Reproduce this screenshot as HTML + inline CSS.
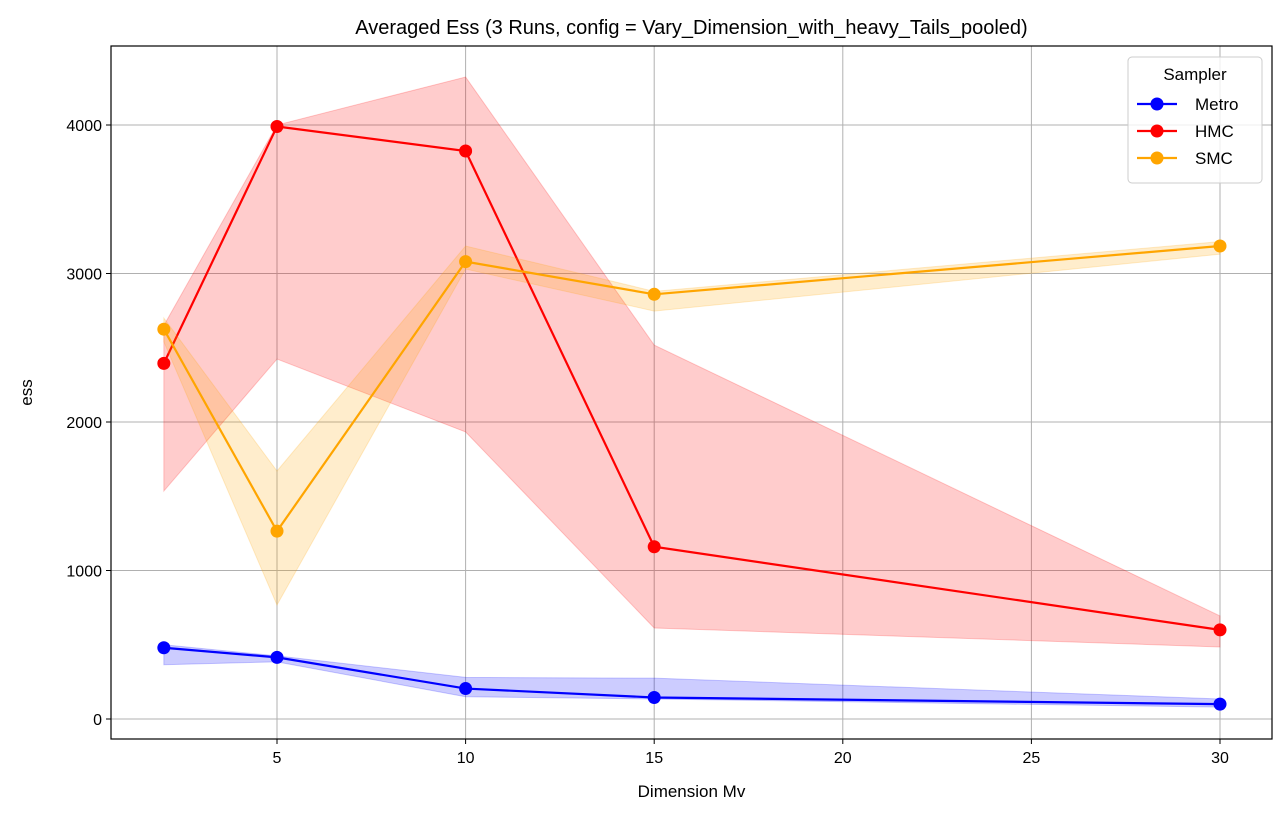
<!DOCTYPE html>
<html><head><meta charset="utf-8"><style>
body{margin:0;background:#fff;}
svg text{font-family:"Liberation Sans","DejaVu Sans",sans-serif;}
</style></head><body>
<svg id="chart" width="1288" height="817" xmlns="http://www.w3.org/2000/svg"></svg>
<script>
const dims=[2,5,10,15,30];
const metroMean=[480,415,205,145,100];
const metroLow=[365,385,150,135,80];
const metroHigh=[500,425,280,275,135];
const hmcMean=[2395,3990,3825,1160,600];
const hmcLow=[1535,2424,1933,613,485];
const hmcHigh=[2650,4000,4323,2518,694];
const smcMean=[2625,1265,3080,2860,3185];
const smcLow=[2540,768,3030,2747,3130];
const smcHigh=[2700,1670,3185,2880,3215];
const xTicks=[5,10,15,20,25,30];
const yTicks=[0,1000,2000,3000,4000];
const L=111,R=1272,T=46,B=739;
const X=v=>277+(v-5)*37.72;
const Y=v=>719-v*0.1485;
const svg=document.getElementById('chart');
const NS='http://www.w3.org/2000/svg';
function mk(tag,attrs,parent){const e=document.createElementNS(NS,tag);for(const k in attrs)e.setAttribute(k,attrs[k]);(parent||svg).appendChild(e);return e;}
// grid
const grid=mk('g',{});


xTicks.forEach(t=>{mk('line',{x1:X(t),x2:X(t),y1:T,y2:B,stroke:'#b0b0b0','stroke-width':1},grid);
 const lb=mk('text',{x:X(t),y:B+24,'text-anchor':'middle','font-size':16});lb.textContent=t;
 
 
 mk('line',{x1:X(t),x2:X(t),y1:B,y2:B+5,stroke:'#000'});});
yTicks.forEach(t=>{mk('line',{x1:L,x2:R,y1:Y(t),y2:Y(t),stroke:'#b0b0b0','stroke-width':1},grid);
 const lb=mk('text',{x:L-9,y:Y(t)+6,'text-anchor':'end','font-size':16});lb.textContent=t;
 
 
 mk('line',{x1:L-5,x2:L,y1:Y(t),y2:Y(t),stroke:'#000'});});
function series(name,mean,lo,hi,color){
 const g=mk('g',{});
 
 
 let pts=dims.map((d,i)=>X(d)+','+Y(hi[i]));
 pts=pts.concat(dims.map((d,i)=>X(d)+','+Y(lo[i])).reverse());
 const band=mk('polygon',{points:pts.join(' '),fill:color,'fill-opacity':0.2,stroke:color,'stroke-opacity':0.2},g);
 
 
 return [g,mean,color,name];
}
const s=[series('metro',metroMean,metroLow,metroHigh,'blue'),series('hmc',hmcMean,hmcLow,hmcHigh,'red'),series('smc',smcMean,smcLow,smcHigh,'orange')];
s.forEach(([g,mean,color,name])=>{
 const ln=mk('polyline',{points:dims.map((d,i)=>X(d)+','+Y(mean[i])).join(' '),fill:'none',stroke:color,'stroke-width':2.2},g);
 
 
 dims.forEach((d,i)=>{const c=mk('circle',{cx:X(d),cy:Y(mean[i]),r:6.5,fill:color},g);
  
  });
});
mk('rect',{x:L,y:T,width:R-L,height:B-T,fill:'none',stroke:'#000','stroke-width':1.2});
const title=mk('text',{x:(L+R)/2,y:34,'text-anchor':'middle','font-size':20});title.textContent='Averaged Ess (3 Runs, config = Vary_Dimension_with_heavy_Tails_pooled)';


const xl=mk('text',{x:(L+R)/2,y:797,'text-anchor':'middle','font-size':17});xl.textContent='Dimension Mv';


const yl=mk('text',{x:32,y:(T+B)/2,'text-anchor':'middle','font-size':17,transform:'rotate(-90 32 '+((T+B)/2)+')'});yl.textContent='ess';


// legend
const lg=mk('g',{});


mk('rect',{x:1128,y:57,width:134,height:126,rx:4,fill:'#fff','fill-opacity':0.8,stroke:'#ccc'},lg);
const lt=mk('text',{x:1195,y:80,'text-anchor':'middle','font-size':17},lg);lt.textContent='Sampler';
[['Metro','blue'],['HMC','red'],['SMC','orange']].forEach(([n,c],i)=>{
 const y=104+i*27;
 const e=mk('g',{},lg);
 
 
 mk('line',{x1:1137,x2:1177,y1:y,y2:y,stroke:c,'stroke-width':2.2},e);
 mk('circle',{cx:1157,cy:y,r:6.5,fill:c},e);
 const t=mk('text',{x:1195,y:y+6,'font-size':17},e);t.textContent=n;
});
</script>
</body></html>
